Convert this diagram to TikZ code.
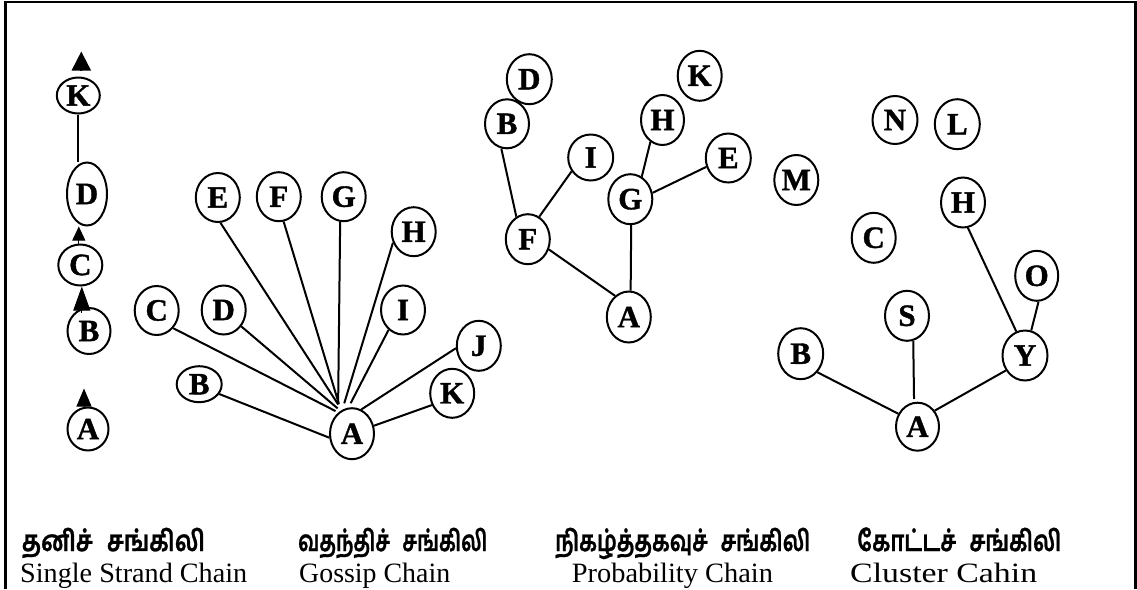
\documentclass[tikz,border=0pt]{standalone}
\usepackage{graphicx}
\usepackage{fontspec}
\setmainfont{Liberation Serif}
\newfontfamily\nodefont[BoldFeatures={FakeBold=1.2}]{Liberation Serif}
\newfontfamily\tamilfont[Script=Tamil, BoldFeatures={FakeBold=1}]{Hind Madurai}
\usetikzlibrary{shapes.geometric,arrows.meta}
\tikzset{
  nd/.style={ellipse, draw, line width=2pt, minimum width=44pt, minimum height=49pt,
    inner sep=0pt, font=\nodefont\bfseries\fontsize{31}{33}\selectfont},
  ln/.style={line width=2pt},
  trihead/.style={line width=2pt, -{Triangle[length=#1,width=#1]}},
  entext/.style={anchor=base west, inner sep=0pt, font=\fontsize{28}{32}\selectfont},
  tatext/.style={anchor=base west, inner sep=0pt, font=\tamilfont\bfseries\fontsize{29}{32}\selectfont},
}
\begin{document}
\begin{tikzpicture}[x=1pt,y=-1pt]
\useasboundingbox (0,0) rectangle (1137,589);
\draw[line width=2.5pt] (5.5,589) -- (5.5,2.2) -- (1135.5,2.2) -- (1135.5,589);

% ---------- Single strand chain ----------
\node[nd, minimum width=43pt, minimum height=36pt] (sK) at (78.3,95.5) {K};
\node[nd, minimum width=40pt, minimum height=63pt] (sD) at (87,194) {D};
\node[nd, minimum width=44pt, minimum height=41pt] (sC) at (80.3,265) {C};
\node[nd, minimum width=43pt, minimum height=46pt] (sB) at (89,331) {B};
\node[nd, minimum width=41pt, minimum height=43pt] (sA) at (88,429) {A};
\draw[ln] (sK.south) -- (sK.south |- sD.north);
\draw[trihead=19pt] ([xshift=3pt,yshift=6pt]sK.north) -- ([xshift=3pt,yshift=25pt]sK.north);
\draw[line width=1pt, -{Triangle[length=14pt,width=13pt]}] ([xshift=-1.5pt]sC.north) -- ([xshift=-1.5pt]sC.north |- sD.south);
\draw[line width=1pt, -{Triangle[length=24pt,width=17pt]}] ([xshift=1.5pt,yshift=-26pt]sC.south) -- ([xshift=1.5pt]sC.south);
\draw[line width=1pt, -{Triangle[length=18pt,width=15pt]}] ([xshift=-4pt]sA.north) -- ([xshift=-4pt,yshift=18pt]sA.north);

% ---------- Gossip chain ----------
\node[nd] (gE) at (217.8,197.5) {E};
\node[nd] (gF) at (278.8,196.7) {F};
\node[nd] (gG) at (343.7,196.7) {G};
\node[nd] (gH) at (413.7,231.7) {H};
\node[nd] (gC) at (156.7,310.5) {C};
\node[nd] (gD) at (223.7,310) {D};
\node[nd] (gI) at (403,310) {I};
\node[nd, minimum height=50pt] (gJ) at (478.8,345.8) {J};
\node[nd, minimum width=45pt, minimum height=36pt] (gB) at (199.2,384.2) {B};
\node[nd] (gK) at (452.2,393.3) {K};
\node[nd, minimum height=51pt] (gA) at (352,433.7) {A};
\draw[ln] (gE.-84) -- ([shift={(-3pt,6pt)}]gA.115.6);
\draw[ln] (gF.-79.8) -- ([shift={(-3pt,6pt)}]gA.113.2);
\draw[ln] (gG.-98.4) -- ([shift={(-3pt,6pt)}]gA.115.6);
\draw[ln] (gH.-152.4) -- ([shift={(-1pt,5pt)}]gA.105.7);
\draw[ln] (gI.-126) -- ([yshift=4pt]gA.93.8);
\draw[ln] (gJ.186) -- (gA.69.1);
\draw[ln] (gK.210) -- (gA.20.7);
\draw[ln] (gC.-47.8) -- ([shift={(-2pt,2pt)}]gA.125.6);
\draw[ln] (gD.-43.9) -- ([shift={(-2pt,3pt)}]gA.119.5);
\draw[ln] (gB.-26.7) -- (gA.190);

% ---------- Probability chain ----------
\node[nd, minimum width=45pt, minimum height=50pt] (pD) at (529.3,79.2) {D};
\node[nd] (pB) at (507,123.8) {B};
\node[nd, minimum height=50pt] (pK) at (699.7,75.8) {K};
\node[nd, minimum width=43pt, minimum height=50pt] (pH) at (662.5,120) {H};
\node[nd, minimum width=45pt, minimum height=46pt] (pI) at (590.7,157.5) {I};
\node[nd, minimum width=45pt] (pE) at (728.3,158) {E};
\node[nd, minimum height=50pt] (pG) at (630.3,199.2) {G};
\node[nd, minimum height=50pt] (pF) at (527.8,239.2) {F};
\node[nd, minimum height=51pt] (pA) at (628.8,317) {A};
\draw[ln] (pB.-103.5) -- (pF.117.9);
\draw[ln] (pF.63.2) -- (pI.216.4);
\draw[ln] (pF.-26.2) -- (pA.123.2);
\draw[ln] (pG.-88.5) -- (pA.86.9);
\draw[ln] (pG.63.1) -- (pH.241.6);
\draw[ln] (pG.16.1) -- (pE.202.5);

% ---------- Cluster chain ----------
\node[nd, minimum width=45pt, minimum height=48pt] (cN) at (895,120) {N};
\node[nd, minimum width=45pt, minimum height=50pt] (cL) at (957.3,124.2) {L};
\node[nd, minimum height=50pt] (cM) at (796.3,180) {M};
\node[nd, minimum height=50pt] (cH) at (963,202.5) {H};
\node[nd, minimum height=50pt] (cC) at (873.7,237.8) {C};
\node[nd, minimum width=43pt, minimum height=50pt] (cO) at (1036.7,275.8) {O};
\node[nd, minimum height=50pt] (cS) at (907,315.8) {S};
\node[nd, minimum width=45pt, minimum height=51pt] (cB) at (800.7,353.7) {B};
\node[nd, minimum width=45pt, minimum height=50pt] (cY) at (1025,355.5) {Y};
\node[nd, minimum width=43pt, minimum height=48pt] (cA) at (917.5,426.7) {A};
\draw[ln] (cH.-79) -- (cY.110.2);
\draw[ln] (cO.-86.5) -- (cY.76.2);
\draw[ln] (cS.-76.3) -- ([yshift=3pt]cA.98);
\draw[ln] (cB.-48) -- (cA.146.3);
\draw[ln] (cY.218.6) -- (cA.43.8);

% ---------- Captions ----------
\node[tatext] (t1) at (21.7,551) {\resizebox{183pt}{\height}{தனிச்\hspace{0.6em}சங்கிலி}};
\node[tatext] (t2) at (298,551) {\resizebox{189pt}{\height}{வதந்திச்\hspace{0.6em}சங்கிலி}};
\node[tatext] (t3) at (555,551) {\resizebox{255pt}{\height}{நிகழ்த்தகவுச்\hspace{0.6em}சங்கிலி}};
\node[tatext] (t4) at (857,551) {\resizebox{204pt}{\height}{கோட்டச்\hspace{0.6em}சங்கிலி}};
\node[entext] (e1) at (20,582) {\resizebox{227pt}{\height}{Single Strand Chain}};
\node[entext] (e2) at (299,582) {\resizebox{151pt}{\height}{Gossip Chain}};
\node[entext] (e3) at (571.7,582) {\resizebox{201pt}{\height}{Probability Chain}};
\node[entext] (e4) at (850,582) {\resizebox{187pt}{\height}{Cluster Cahin}};
\end{tikzpicture}
\end{document}
